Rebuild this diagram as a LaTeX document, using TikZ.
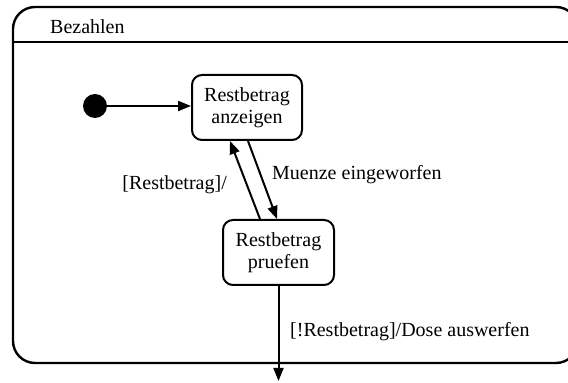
\documentclass[tikz,border=0pt]{standalone}
\usepackage{fontspec}
\setmainfont{Liberation Serif}
\usetikzlibrary{arrows.meta,calc}
\begin{document}
\begin{tikzpicture}[x=1pt,y=1pt,
  state/.style={draw,line width=2pt,rounded corners=10pt,minimum width=110pt,minimum height=65pt,align=center,inner sep=0pt,font=\fontsize{20}{22}\selectfont},
  lbl/.style={inner sep=0pt,font=\fontsize{20}{22}\selectfont},
  trans/.style={line width=2pt,-{Triangle[length=13pt,width=10pt]}}]
\clip (0,0) rectangle (568,383);
% outer composite state
\draw[line width=2.4pt,rounded corners=22pt] (13,20) rectangle (578,376);
\coordinate (hl) at (13,341);
\coordinate (hr) at (578,341);
\draw[line width=2.4pt] (hl) -- (hr);
\node[lbl,anchor=west] (title) at (50,356) {Bezahlen};
% initial state
\node[circle,fill=black,minimum size=24pt,inner sep=0pt] (init) at (95,277) {};
\node[state] (b1) at (247,275.5) {Restbetrag\\anzeigen};
\node[state,minimum width=111pt] (b2) at (278.5,130.5) {Restbetrag\\pruefen};
\draw[trans] (init) -- (b1.west |- init);
\coordinate (d1) at ($(b1.south)+(1,0)$);
\coordinate (d2) at ($(b2.north)+(-1.5,0)$);
\coordinate (u1) at ($(b2.north)+(-18.5,0)$);
\coordinate (u2) at ($(b1.south)+(-17,0)$);
\draw[trans] (d1) -- (d2);
\draw[trans] (u1) -- (u2);
\node[lbl,anchor=west] (lm) at (272,208) {Muenze eingeworfen};
\node[lbl,anchor=east] (lr) at (227,198) {[Restbetrag]/};
\coordinate (out) at ($(b2.south |- 0,2)$);
\draw[trans] (b2.south) -- (out);
\node[lbl,anchor=west] (ld) at (290,51) {[!Restbetrag]/Dose auswerfen};
\end{tikzpicture}
\end{document}
